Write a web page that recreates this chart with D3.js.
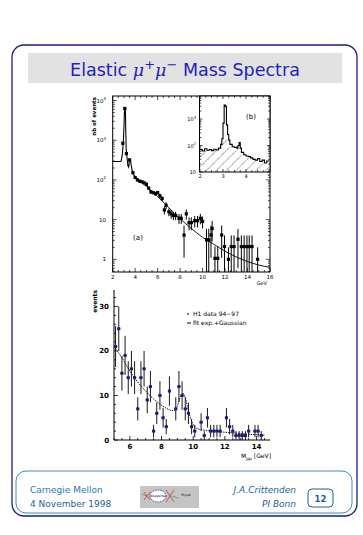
<!DOCTYPE html>
<html><head><meta charset="utf-8">
<script src="https://cdn.jsdelivr.net/npm/d3@7"></script>
<style>html,body{margin:0;padding:0;background:#fff;}svg{display:block;}</style>
</head><body>
<script>
// ---------- DATA ----------
// Plot (a): full mass spectrum, histogram part (log scale, events)
const aHistX = [2.0, 2.7, 2.75, 2.85, 2.95, 3.02, 3.05, 3.13, 3.16, 3.2, 3.28, 3.35, 3.42, 3.5, 3.58, 3.65, 3.72, 3.8, 3.9, 4.0, 4.2, 4.4, 4.6, 4.8, 5.0, 5.2, 5.4, 5.6, 5.8, 6.0, 6.2, 6.4];
const aHistY = [290, 290, 300, 420, 900, 3000, 6300, 6300, 2000, 600, 350, 230, 210, 320, 320, 230, 180, 150, 130, 115, 100, 93, 90, 85, 78, 62, 50, 48, 45, 48, 40, 34];
// Plot (a): points with error bars
const aPtX = [2.9, 3.08, 3.22, 3.5, 3.8, 4.0, 4.2, 4.4, 4.6, 4.8, 5.0, 5.2, 5.4, 5.6, 5.8, 6.0, 6.2, 6.4, 6.6, 6.75, 7.0, 7.2, 7.4, 7.6, 7.9, 8.1, 8.35, 8.55, 8.8, 9.0, 9.3, 9.55, 9.8, 10.0, 10.35, 10.55, 10.75, 10.85, 11.1, 11.35, 11.7, 11.95, 12.3, 12.55, 12.8, 13.15, 13.45, 13.7, 13.95, 14.15, 14.4, 14.9];
const aPtY = [840, 6300, 460, 320, 152, 115, 100, 93, 90, 85, 78, 62, 50, 48, 45, 48, 40, 34, 17.5, 23, 15.7, 14, 12.7, 12.7, 10.8, 10.8, 4.1, 14, 8.4, 8.4, 9.4, 9.4, 10.8, 9, 3.1, 3.1, 4.1, 6, 1.06, 1.06, 4.1, 2.1, 1.0, 2.1, 2.1, 3.2, 2.1, 2.1, 2.1, 2.1, 2.1, 1.0];
const aErr = [60, 200, 40, 30, 10, 9, 8, 8, 7, 7, 7, 6, 5, 5, 5, 5, 5, 4.5, 4, 4.5, 3.5, 3.5, 3, 3, 3, 3, 3, 4, 3, 3, 3, 3, 3.2, 3, 2.8, 2.8, 3, 3.2, 1.05, 1.05, 3, 1.9, 1.0, 1.9, 1.9, 2.6, 1.9, 1.9, 1.9, 1.9, 1.9, 1.0];
// Plot (a): fit curve
const aFitX = [3.9, 4.5, 5, 6, 7, 8, 9, 10, 11, 12, 13, 14, 15, 16];
const aFitY = [130, 90, 68, 38, 20, 10.5, 6, 3.6, 2.4, 1.6, 1.15, 0.88, 0.72, 0.63];
const aXTicks = [2, 4, 6, 8, 10, 12, 14, 16];
const aYTicks = [1, 10, 100, 1000, 10000];

// Inset (b): J/psi region
const bX = [2.0, 2.1, 2.2, 2.3, 2.4, 2.5, 2.6, 2.7, 2.8, 2.9, 2.95, 3.0, 3.05, 3.1, 3.15, 3.2, 3.25, 3.3, 3.4, 3.5, 3.6, 3.65, 3.7, 3.75, 3.8, 3.9, 4.0, 4.1, 4.2, 4.3, 4.4, 4.5, 4.6, 4.7, 4.8, 4.9, 5.0];
const bY = [70, 62, 75, 66, 70, 64, 72, 68, 80, 110, 180, 700, 3400, 3000, 600, 260, 160, 110, 90, 85, 80, 100, 130, 80, 55, 45, 40, 38, 34, 30, 28, 32, 25, 28, 22, 26, 26];
const bBgX = [2.0, 2.5, 2.8, 2.95, 3.05, 3.15, 3.25, 3.4, 3.6, 3.7, 3.8, 4.0, 4.3, 4.6, 5.0];
const bBgY = [65, 62, 66, 120, 215, 200, 120, 80, 70, 75, 50, 38, 28, 22, 20];
const bXTicks = [2, 3, 4, 5];
const bYTicks = [10, 100, 1000];

// Lower plot: 5-15 GeV, linear scale
const cX = [5.1, 5.3, 5.5, 5.7, 5.9, 6.1, 6.3, 6.5, 6.7, 6.9, 7.1, 7.3, 7.5, 7.7, 7.9, 8.1, 8.3, 8.5, 8.9, 9.1, 9.3, 9.5, 9.7, 9.9, 10.1, 10.5, 10.7, 10.9, 11.1, 11.3, 11.5, 11.7, 12.1, 12.3, 12.5, 12.7, 12.9, 13.1, 13.3, 13.5, 13.9, 14.1, 14.3];
const cY = [21, 25, 15, 19, 14, 16, 14, 7, 14, 16, 9, 12, 2, 6, 10, 5, 3, 11, 7, 12, 10, 7, 6, 3, 2, 4, 1, 5, 2, 2, 2, 2, 5, 3, 2, 1, 1, 1, 1, 2, 2, 2, 1];
const cErr = [4.6, 5, 3.9, 4.4, 3.7, 4, 3.7, 2.6, 3.7, 4, 3, 3.5, 1.4, 2.4, 3.2, 2.2, 1.7, 3.3, 2.6, 3.5, 3.2, 2.6, 2.4, 1.7, 1.4, 2, 1, 2.2, 1.4, 1.4, 1.4, 1.4, 2.2, 1.7, 1.4, 1, 1, 1, 1, 1.4, 1.4, 1.4, 1];
const cFitX = [5.0, 5.5, 6.0, 6.5, 7.0, 7.5, 8.0, 8.5, 8.8, 9.0, 9.2, 9.35, 9.5, 9.7, 10.0, 10.3, 10.7, 11.5, 12.5, 13.5, 14.5];
const cFitY = [21, 18.5, 15.5, 13, 11, 9.2, 7.8, 6.8, 6.6, 7.6, 9.8, 10.5, 9.5, 6.5, 3.5, 2.5, 2.2, 1.9, 1.6, 1.3, 1.1];
const cXTicks = [6, 8, 10, 12, 14];
const cYTicks = [0, 10, 20, 30];
const legendLabels = ["H1 data 94\u221297", "fit exp.+Gaussian"];

// ---------- DRAW ----------
const W = 363, H = 535;
const svg = d3.select("body").append("svg").attr("width", W).attr("height", H);
const FONT = "DejaVu Sans, Verdana, sans-serif";

// slide frame
svg.append("rect").attr("x", 12).attr("y", 45).attr("width", 345).attr("height", 471)
  .attr("rx", 12).attr("fill", "none").attr("stroke", "#1c1c90").attr("stroke-width", 1.3);
svg.append("rect").attr("x", 28).attr("y", 53).attr("width", 314).attr("height", 30).attr("fill", "#e2e2e2");
const title = svg.append("text").attr("x", 185).attr("y", 76).attr("text-anchor", "middle")
  .attr("font-family", FONT).attr("font-size", 17.5).attr("fill", "#1f1fc4");
title.append("tspan").text("Elastic ");
title.append("tspan").attr("font-family", "DejaVu Serif, serif").attr("font-style", "italic").text("\u03bc");
title.append("tspan").attr("dy", -7).attr("font-size", 13).text("+");
title.append("tspan").attr("dy", 7).attr("font-family", "DejaVu Serif, serif").attr("font-style", "italic").text("\u03bc");
title.append("tspan").attr("dy", -7).attr("font-size", 13).text("\u2212");
title.append("tspan").attr("dy", 7).text(" Mass Spectra");

// ---- Plot (a) ----
const ax = d3.scaleLinear().domain([2, 16]).range([112.7, 270]);
const ay = d3.scaleLog().domain([0.48, 13000]).range([272, 96]);
const gA = svg.append("g");
gA.append("rect").attr("x", 112.7).attr("y", 96).attr("width", 270 - 112.7).attr("height", 176)
  .attr("fill", "none").attr("stroke", "#000").attr("stroke-width", 1);

function tickFrame(g, xs, ys, x0, x1, y0, y1, xMinor, yMinor) {
  xMinor.forEach(v => {
    const major = aXTicks.includes(v);
    const L = major ? 4 : 2;
    g.append("line").attr("x1", xs(v)).attr("x2", xs(v)).attr("y1", y1).attr("y2", y1 - L).attr("stroke", "#000").attr("stroke-width", 0.7);
    g.append("line").attr("x1", xs(v)).attr("x2", xs(v)).attr("y1", y0).attr("y2", y0 + L).attr("stroke", "#000").attr("stroke-width", 0.7);
  });
  yMinor.forEach(v => {
    const major = Math.abs(Math.log10(v) - Math.round(Math.log10(v))) < 1e-6;
    const L = major ? 4 : 2;
    g.append("line").attr("y1", ys(v)).attr("y2", ys(v)).attr("x1", x0).attr("x2", x0 + L).attr("stroke", "#000").attr("stroke-width", 0.7);
    g.append("line").attr("y1", ys(v)).attr("y2", ys(v)).attr("x1", x1).attr("x2", x1 - L).attr("stroke", "#000").attr("stroke-width", 0.7);
  });
}
const aXMinor = d3.range(2, 16.01, 0.5);
const aYMinor = [];
[0.1, 1, 10, 100, 1000, 10000].forEach(d => { for (let k = 1; k < 10; k++) { const v = d * k; if (v >= 0.48 && v <= 13000) aYMinor.push(v); } });
tickFrame(gA, ax, ay, 112.7, 270, 96, 272, aXMinor, aYMinor);

aXTicks.forEach(v => gA.append("text").attr("x", ax(v)).attr("y", 279).attr("text-anchor", "middle")
  .attr("font-family", FONT).attr("font-size", 5.5).attr("fill", "#000").text(v));
const supMap = {1: "1", 10: "10", 100: "10", 1000: "10", 10000: "10"};
aYTicks.forEach(v => {
  const t = gA.append("text").attr("x", 106).attr("y", ay(v) + 2).attr("text-anchor", "end")
    .attr("font-family", FONT).attr("font-size", 5.5).attr("fill", "#000");
  t.append("tspan").text(supMap[v]);
  if (v >= 100) t.append("tspan").attr("dy", -2.5).attr("font-size", 4).text(Math.round(Math.log10(v)));
});
gA.append("text").attr("transform", "translate(96,97) rotate(-90)").attr("text-anchor", "end")
  .attr("font-family", FONT).attr("font-size", 5.5).attr("font-weight", "bold").attr("fill", "#000").text("nb of events");
gA.append("text").attr("x", 267).attr("y", 285).attr("text-anchor", "end")
  .attr("font-family", FONT).attr("font-size", 5).attr("fill", "#000").text("GeV");

const clipA = svg.append("clipPath").attr("id", "clipA").append("rect")
  .attr("x", 112.7).attr("y", 96).attr("width", 270 - 112.7).attr("height", 176);
const gAin = gA.append("g").attr("clip-path", "url(#clipA)");
gAin.append("path").datum(aHistX.map((x, i) => [x, aHistY[i]]))
  .attr("d", d3.line().x(d => ax(d[0])).y(d => ay(d[1])))
  .attr("fill", "none").attr("stroke", "#000").attr("stroke-width", 1.1);
gAin.append("path").datum(aFitX.map((x, i) => [x, aFitY[i]]))
  .attr("d", d3.line().curve(d3.curveMonotoneX).x(d => ax(d[0])).y(d => ay(d[1])))
  .attr("fill", "none").attr("stroke", "#000").attr("stroke-width", 0.9);
aPtX.forEach((x, i) => {
  const lo = Math.max(0.48, aPtY[i] - aErr[i]), hi = aPtY[i] + aErr[i];
  gAin.append("line").attr("x1", ax(x)).attr("x2", ax(x)).attr("y1", ay(lo)).attr("y2", ay(hi))
    .attr("stroke", "#000").attr("stroke-width", 1);
  gAin.append("rect").attr("x", ax(x) - 1.6).attr("y", ay(aPtY[i]) - 1.6).attr("width", 3.2).attr("height", 3.2).attr("fill", "#000");
});
gA.append("text").attr("x", 138).attr("y", 240).attr("text-anchor", "middle")
  .attr("font-family", FONT).attr("font-size", 7).attr("fill", "#000").text("(a)");

// ---- Inset (b) ----
const bx = d3.scaleLinear().domain([2, 5]).range([200, 269]);
const by = d3.scaleLog().domain([10, 7400]).range([172, 96]);
const gB = svg.append("g");
gB.append("rect").attr("x", 199.5).attr("y", 96).attr("width", 70.5).attr("height", 76).attr("fill", "#fff");
const defs = svg.append("defs");
const pat = defs.append("pattern").attr("id", "hatch").attr("patternUnits", "userSpaceOnUse")
  .attr("width", 7).attr("height", 7).attr("patternTransform", "rotate(45)");
pat.append("line").attr("x1", 0).attr("y1", 0).attr("x2", 0).attr("y2", 7)
  .attr("stroke", "#000").attr("stroke-width", 0.8).attr("stroke-dasharray", "1.6,1");
const clipB = svg.append("clipPath").attr("id", "clipB").append("rect")
  .attr("x", 199.5).attr("y", 96).attr("width", 70.5).attr("height", 76);
const gBin = gB.append("g").attr("clip-path", "url(#clipB)");
gBin.append("path").datum(bBgX.map((x, i) => [x, bBgY[i]]))
  .attr("d", d3.area().curve(d3.curveMonotoneX).x(d => bx(d[0])).y0(172).y1(d => by(d[1])))
  .attr("fill", "url(#hatch)").attr("stroke", "none");
gBin.append("path").datum(bX.map((x, i) => [x, bY[i]]))
  .attr("d", d3.line().curve(d3.curveStepAfter).x(d => bx(d[0])).y(d => by(d[1])))
  .attr("fill", "none").attr("stroke", "#000").attr("stroke-width", 1.1);
gB.append("rect").attr("x", 199.5).attr("y", 96).attr("width", 70.5).attr("height", 76)
  .attr("fill", "none").attr("stroke", "#000").attr("stroke-width", 1);
d3.range(2, 5.01, 0.25).forEach(v => {
  const L = Number.isInteger(v) ? 3 : 1.8;
  gB.append("line").attr("x1", bx(v)).attr("x2", bx(v)).attr("y1", 172).attr("y2", 172 - L).attr("stroke", "#000").attr("stroke-width", 0.7);
  gB.append("line").attr("x1", bx(v)).attr("x2", bx(v)).attr("y1", 96).attr("y2", 96 + L).attr("stroke", "#000").attr("stroke-width", 0.7);
});
[10, 100, 1000].forEach(d => { for (let k = 1; k < 10; k++) { const v = d * k; if (v <= 7400) {
  const L = k === 1 ? 3 : 1.8;
  gB.append("line").attr("y1", by(v)).attr("y2", by(v)).attr("x1", 199.5).attr("x2", 199.5 + L).attr("stroke", "#000").attr("stroke-width", 0.7);
  gB.append("line").attr("y1", by(v)).attr("y2", by(v)).attr("x1", 270).attr("x2", 270 - L).attr("stroke", "#000").attr("stroke-width", 0.7);
} } });
bXTicks.forEach(v => gB.append("text").attr("x", bx(v)).attr("y", 178).attr("text-anchor", "middle")
  .attr("font-family", FONT).attr("font-size", 5).attr("fill", "#000").text(v));
bYTicks.forEach(v => {
  const t = gB.append("text").attr("x", 196).attr("y", by(v) + 2).attr("text-anchor", "end")
    .attr("font-family", FONT).attr("font-size", 5).attr("fill", "#000");
  t.append("tspan").text("10");
  if (v >= 100) t.append("tspan").attr("dy", -2.5).attr("font-size", 3.6).text(Math.round(Math.log10(v)));
});
gB.append("text").attr("x", 251).attr("y", 119).attr("text-anchor", "middle")
  .attr("font-family", FONT).attr("font-size", 7).attr("fill", "#000").text("(b)");

// ---- Lower plot ----
const cx = d3.scaleLinear().domain([5, 14.85]).range([114, 270]);
const cy = d3.scaleLinear().domain([0, 33.7]).range([440, 290]);
const gC = svg.append("g");
gC.append("line").attr("x1", 114).attr("x2", 114).attr("y1", 290).attr("y2", 440).attr("stroke", "#000").attr("stroke-width", 1);
gC.append("line").attr("x1", 114).attr("x2", 270).attr("y1", 440).attr("y2", 440).attr("stroke", "#000").attr("stroke-width", 1);
d3.range(5, 14.81, 0.5).forEach(v => {
  const L = (v % 2 === 0) ? 4 : 2;
  gC.append("line").attr("x1", cx(v)).attr("x2", cx(v)).attr("y1", 440).attr("y2", 440 - L).attr("stroke", "#000").attr("stroke-width", 0.8);
});
d3.range(0, 33.1, 2).forEach(v => {
  const L = (v % 10 === 0) ? 4 : 2;
  gC.append("line").attr("y1", cy(v)).attr("y2", cy(v)).attr("x1", 114).attr("x2", 114 + L).attr("stroke", "#000").attr("stroke-width", 0.8);
});
cXTicks.forEach(v => gC.append("text").attr("x", cx(v)).attr("y", 449).attr("text-anchor", "middle")
  .attr("font-family", FONT).attr("font-size", 7).attr("font-weight", "bold").attr("fill", "#000").text(v));
cYTicks.forEach(v => gC.append("text").attr("x", 109).attr("y", cy(v) + 2.5).attr("text-anchor", "end")
  .attr("font-family", FONT).attr("font-size", 7).attr("font-weight", "bold").attr("fill", "#000").text(v));
gC.append("text").attr("transform", "translate(97,290) rotate(-90)").attr("text-anchor", "end")
  .attr("font-family", FONT).attr("font-size", 6).attr("font-weight", "bold").attr("fill", "#000").text("events");
const xl = gC.append("text").attr("x", 271).attr("y", 458).attr("text-anchor", "end")
  .attr("font-family", FONT).attr("font-size", 6).attr("fill", "#000");
xl.append("tspan").text("M");
xl.append("tspan").attr("dy", 1.5).attr("font-size", 4.5).text("\u03bc\u03bc");
xl.append("tspan").attr("dy", -1.5).text(" [GeV]");

gC.append("path").datum(cFitX.map((x, i) => [x, cFitY[i]]))
  .attr("d", d3.line().curve(d3.curveMonotoneX).x(d => cx(d[0])).y(d => cy(d[1])))
  .attr("fill", "none").attr("stroke", "#000").attr("stroke-width", 0.9).attr("stroke-dasharray", "1.5,1");
cX.forEach((x, i) => {
  const lo = Math.max(0, cY[i] - cErr[i]), hi = cY[i] + cErr[i];
  gC.append("line").attr("x1", cx(x)).attr("x2", cx(x)).attr("y1", cy(lo)).attr("y2", cy(hi)).attr("stroke", "#000").attr("stroke-width", 0.9);
  gC.append("line").attr("x1", cx(x - 0.1)).attr("x2", cx(x + 0.1)).attr("y1", cy(cY[i])).attr("y2", cy(cY[i])).attr("stroke", "#000").attr("stroke-width", 0.9);
  gC.append("rect").attr("x", cx(x) - 1.5).attr("y", cy(cY[i]) - 1.5).attr("width", 3).attr("height", 3).attr("fill", "#1a1a8a");
});
// legend
gC.append("line").attr("x1", 187).attr("x2", 189).attr("y1", 314).attr("y2", 314).attr("stroke", "#000").attr("stroke-width", 1);
gC.append("text").attr("x", 193).attr("y", 316).attr("font-family", FONT).attr("font-size", 6).attr("fill", "#000").text(legendLabels[0]);
gC.append("line").attr("x1", 187).attr("x2", 191).attr("y1", 323).attr("y2", 323).attr("stroke", "#000").attr("stroke-width", 1);
gC.append("text").attr("x", 193).attr("y", 325).attr("font-family", FONT).attr("font-size", 6).attr("fill", "#000").text(legendLabels[1]);

// ---- Footer ----
svg.append("rect").attr("x", 16).attr("y", 471).attr("width", 336).attr("height", 42).attr("rx", 10)
  .attr("fill", "none").attr("stroke", "#3c8cc4").attr("stroke-width", 1);
svg.append("text").attr("x", 30).attr("y", 493).attr("font-family", FONT).attr("font-size", 9).attr("fill", "#2a78b0").text("Carnegie Mellon");
svg.append("text").attr("x", 30).attr("y", 507).attr("font-family", FONT).attr("font-size", 9).attr("fill", "#1f5f9c").text("4 November 1998");
svg.append("text").attr("x", 296).attr("y", 493).attr("text-anchor", "end").attr("font-family", FONT).attr("font-style", "italic").attr("font-size", 9).attr("fill", "#1f5f9c").text("J.A.Crittenden");
svg.append("text").attr("x", 296).attr("y", 507).attr("text-anchor", "end").attr("font-family", FONT).attr("font-style", "italic").attr("font-size", 9).attr("fill", "#1f5f9c").text("PI Bonn");
svg.append("rect").attr("x", 308).attr("y", 489).attr("width", 25).attr("height", 18).attr("rx", 4)
  .attr("fill", "none").attr("stroke", "#1f5f9c").attr("stroke-width", 1);
svg.append("text").attr("x", 320.5).attr("y", 501.5).attr("text-anchor", "middle").attr("font-family", FONT).attr("font-size", 8.5).attr("font-weight", "bold").attr("fill", "#1f5f9c").text("12");
// logo
const lg = svg.append("g");
lg.append("rect").attr("x", 140).attr("y", 486).attr("width", 59).attr("height", 22).attr("fill", "#c4c4c4");
lg.append("ellipse").attr("cx", 158).attr("cy", 496).attr("rx", 8).attr("ry", 6).attr("fill", "#fff").attr("stroke", "#2222cc").attr("stroke-width", 0.8).attr("stroke-dasharray", "1.5,1");
lg.append("path").attr("d", "M144,492 L150,500 M144,500 L150,492 M166,490 L174,502 M166,502 L174,490").attr("stroke", "#cc2222").attr("stroke-width", 0.7).attr("fill", "none");
lg.append("path").attr("d", "M146,496 L142,494 M172,496 L178,498").attr("stroke", "#22aa22").attr("stroke-width", 0.7);
lg.append("text").attr("x", 158).attr("y", 497).attr("text-anchor", "middle").attr("font-family", FONT).attr("font-size", 3).attr("fill", "#000").text("Wuppertal");
lg.append("text").attr("x", 186).attr("y", 496).attr("text-anchor", "middle").attr("font-family", FONT).attr("font-size", 3).attr("fill", "#000").text("Physik");
</script>
</body></html>
